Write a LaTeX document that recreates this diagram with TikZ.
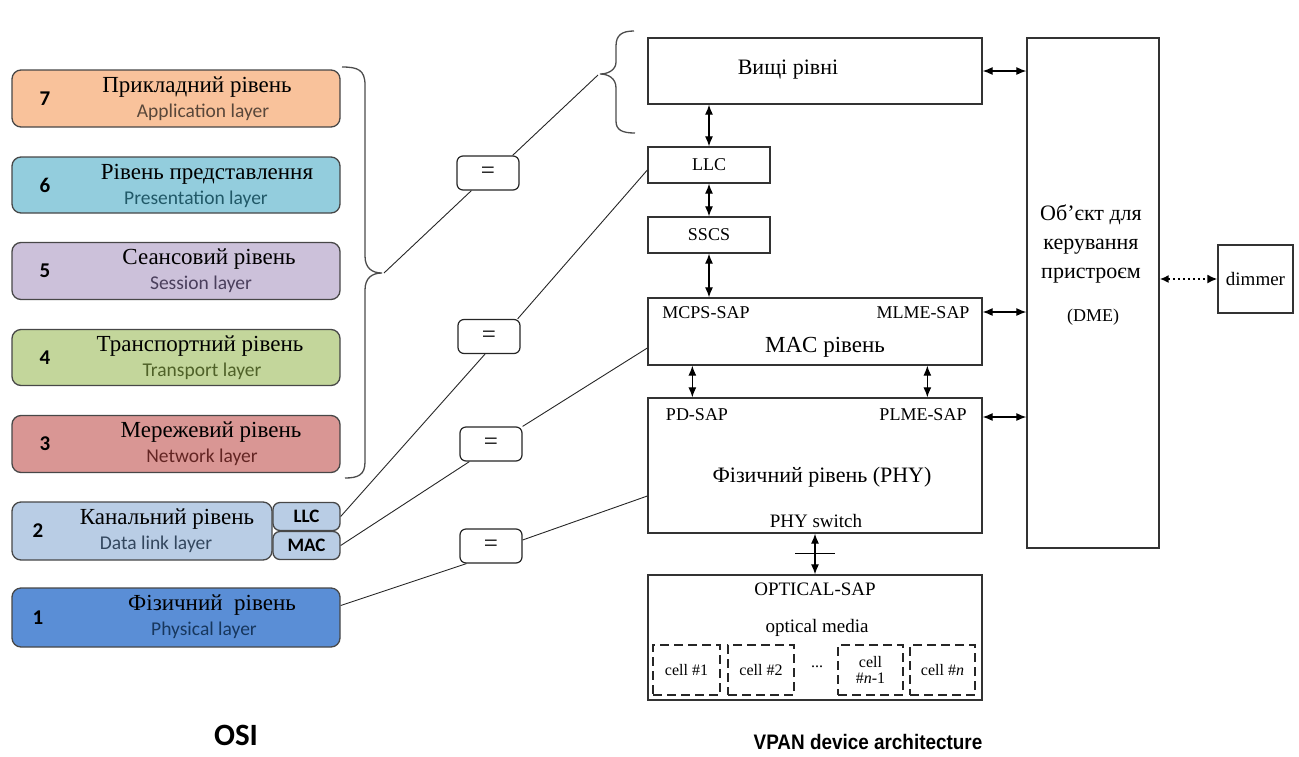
\documentclass[tikz,border=0pt]{standalone}
\usepackage{fontspec}
\setmainfont{Liberation Serif}
\newfontfamily\osifont{Carlito}
\newfontfamily\capfont{Liberation Sans}
\usetikzlibrary{arrows.meta,calc}
\newcommand\setfs[2]{\fontsize{#1}{#2}\selectfont}

% layer fills
\definecolor{fill7}{HTML}{F9C29B}
\definecolor{fill6}{HTML}{93CDDD}
\definecolor{fill5}{HTML}{CCC1DA}
\definecolor{fill4}{HTML}{C3D69B}
\definecolor{fill3}{HTML}{D99694}
\definecolor{fill2}{HTML}{B9CDE5}
\definecolor{fill1}{HTML}{5A8ED6}
% english subtitle colours
\definecolor{sub7}{HTML}{59473A}
\definecolor{sub6}{HTML}{215968}
\definecolor{sub5}{HTML}{4A3F5C}
\definecolor{sub4}{HTML}{4F6128}
\definecolor{sub3}{HTML}{632523}
\definecolor{sub2}{HTML}{33475E}
\definecolor{sub1}{HTML}{17375E}

\begin{document}
\begin{tikzpicture}[x=1pt,y=-1pt,
  osibox/.style={draw=black!72, line width=1.3pt, rounded corners=9pt, inner sep=0pt},
  osinum/.style={font=\osifont\bfseries\setfs{21}{24}},
  ostitle/.style={font=\setfs{23}{27}},
  osub/.style={font=\osifont\setfs{19.5}{23}},
  subbox/.style={draw=black!72, line width=1.3pt, rounded corners=7pt, fill=fill2, inner sep=0pt,
    minimum width=67pt, minimum height=28pt, font=\osifont\bfseries\setfs{19}{22}},
  archbox/.style={draw=black!80, line width=1.3pt, inner sep=0pt},
  sap/.style={font=\setfs{18}{21}},
  mid/.style={font=\setfs{19}{22}},
  big/.style={font=\setfs{22}{26}},
  eqbox/.style={draw=black!85, line width=1.2pt, rounded corners=6pt, fill=white,
    minimum width=62pt, minimum height=34pt, inner sep=0pt, font=\setfs{25}{28}},
  cellbox/.style={draw=black!85, line width=2.8pt, dash pattern=on 9pt off 5pt, inner sep=0pt,
    minimum height=50pt, align=center, font=\setfs{16}{17}},
  link/.style={draw=black!85, line width=0.9pt},
  dual/.style={draw=black, line width=1.2pt, {Latex[length=10pt,width=8pt]}-{Latex[length=10pt,width=8pt]}},
  brace/.style={draw=black!70, line width=1.3pt}
]
\useasboundingbox (0,0) rectangle (1299,756);

% ---------- OSI stack ----------
\node[osibox, fill=fill7, minimum width=328pt, minimum height=57pt] (L7) at (176,98.5) {};
\node[osinum] (n7) at (45,98.5) {7};
\node[ostitle] (t7) at (197,87) {Прикладний рівень};
\node[osub, text=sub7] (e7) at (203,112) {Application layer};

\node[osibox, fill=fill6, minimum width=328pt, minimum height=56pt] (L6) at (176,185) {};
\node[osinum] (n6) at (45,185) {6};
\node[ostitle] (t6) at (207,174) {Рівень представлення};
\node[osub, text=sub6] (e6) at (196,199) {Presentation layer};

\node[osibox, fill=fill5, minimum width=328pt, minimum height=57pt] (L5) at (176,271) {};
\node[osinum] (n5) at (45,271) {5};
\node[ostitle] (t5) at (209,259) {Сеансовий рівень};
\node[osub, text=sub5] (e5) at (201,284) {Session layer};

\node[osibox, fill=fill4, minimum width=328pt, minimum height=56pt] (L4) at (176,357.5) {};
\node[osinum] (n4) at (45,357.5) {4};
\node[ostitle] (t4) at (200,346) {Транспортний рівень};
\node[osub, text=sub4] (e4) at (202,371) {Transport layer};

\node[osibox, fill=fill3, minimum width=328pt, minimum height=57pt] (L3) at (176,444) {};
\node[osinum] (n3) at (45,444) {3};
\node[ostitle] (t3) at (211,432) {Мережевий рівень};
\node[osub, text=sub3] (e3) at (202,457) {Network layer};

\node[osibox, fill=fill2, minimum width=260pt, minimum height=58pt] (L2) at (142,531) {};
\node[osinum] (n2) at (38,531) {2};
\node[ostitle] (t2) at (167,519) {Канальний рівень};
\node[osub, text=sub2] (e2) at (156,544) {Data link layer};
\node[subbox] (LLCs) at (306.5,516.5) {LLC};
\node[subbox] (MACs) at (306.5,545.5) {MAC};

\node[osibox, fill=fill1, minimum width=328pt, minimum height=59pt] (L1) at (176,617.5) {};
\node[osinum] (n1) at (38,617.5) {1};
\node[ostitle] (t1) at (212,605) {Фізичний\ \ рівень};
\node[osub, text=sub1] (e1) at (204,630) {Physical layer};

\node[font=\osifont\bfseries\setfs{31}{36}] (osi) at (236,735) {OSI};

% brace over layers 7..3
\draw[brace] (342,67) .. controls (358,67) and (365,70) .. (365,85) -- (365,256)
  .. controls (365,268) and (372,273) .. (382,273)
  .. controls (372,273) and (365,278) .. (365,290) -- (365,462)
  .. controls (365,475) and (358,478) .. (345,478);
\coordinate (ositip) at (384,273);

% ---------- device architecture ----------
\node[archbox, minimum width=334pt, minimum height=66pt] (UP) at (815,71) {};
\node[big] (upt) at (788,70) {Вищі рівні};

% brace over the upper layers
\draw[brace] (634,31) .. controls (622,31) and (616,35) .. (616,46) -- (616,62)
  .. controls (616,70) and (608,74) .. (600,74)
  .. controls (608,74) and (616,78) .. (616,88) -- (616,121)
  .. controls (616,130) and (622,133) .. (635,133);
\coordinate (uptip) at (598,75);

\node[archbox, minimum width=122pt, minimum height=36pt, sap] (LLC) at (709,165) {LLC};
\node[archbox, minimum width=122pt, minimum height=36pt, sap] (SSCS) at (709,235) {SSCS};

\node[archbox, minimum width=334pt, minimum height=67pt] (MAC) at (815,331.5) {};
\node[sap] (mcps) at (706,313) {MCPS-SAP};
\node[sap] (mlme) at (923,313) {MLME-SAP};
\node[font=\setfs{23}{26}] (mact) at (825,347) {MAC рівень};

\node[archbox, minimum width=334pt, minimum height=135pt] (PHY) at (815,465.5) {};
\node[sap] (pdsap) at (697,415) {PD-SAP};
\node[sap] (plme) at (923,415) {PLME-SAP};
\node[big] (phyt) at (822,477) {Фізичний рівень (PHY)};
\node[mid] (physw) at (816,521) {PHY switch};

\node[archbox, minimum width=334pt, minimum height=125pt] (OPT) at (815,637.5) {};
\node[mid] (optsap) at (815,589) {OPTICAL-SAP};
\node[mid] (optmed) at (817,628) {optical media};
\node[cellbox, minimum width=67pt] (c1) at (686.5,670) {cell \#1};
\node[cellbox, minimum width=66pt] (c2) at (761,670) {cell \#2};
\node[font=\setfs{16}{17}] (cdots) at (817,667) {...};
\node[cellbox, minimum width=65pt] (c3) at (870.5,670) {cell\\[-1pt]\#\textit{n}-1};
\node[cellbox, minimum width=65pt] (c4) at (942.5,670) {cell \#\textit{n}};

\node[archbox, minimum width=132pt, minimum height=510pt] (DME) at (1093,293) {};
\node[align=center, font=\setfs{22}{29}] (dmet) at (1091,244) {Об'єкт для\\керування\\пристроєм};
\node[font=\setfs{18}{21}] (dmeab) at (1093,317) {(DME)};

\node[archbox, minimum width=75pt, minimum height=68pt, mid] (DIM) at (1255.5,279) {dimmer};

\node[font=\capfont\bfseries\setfs{21}{25}, xscale=0.9] (vpan) at (868,742) {VPAN device architecture};

% vertical service links
\draw[dual] (LLC.north |- UP.south) -- (LLC.north);
\draw[dual] (LLC.south) -- (SSCS.north);
\draw[dual] (SSCS.south) -- (SSCS.south |- MAC.north);
\draw[dual] ([xshift=45pt]MAC.south west) -- ([xshift=45pt]PHY.north west);
\draw[dual] ([xshift=280pt]MAC.south west) -- ([xshift=280pt]PHY.north west);
\draw[dual] (PHY.south) -- (OPT.north);
\coordinate (tick) at ($(PHY.south)!0.48!(OPT.north)$);
\draw[line width=1.2pt] ([xshift=-20pt]tick) -- ([xshift=20pt]tick);

% management links to the DME
\draw[dual] (UP.east) -- (UP.east -| DME.west);
\draw[dual] ([yshift=19.5pt]MAC.east) -- ([yshift=19.5pt]MAC.east -| DME.west);
\draw[dual] ([yshift=48.5pt]PHY.east) -- ([yshift=48.5pt]PHY.east -| DME.west);
\draw[draw=black, line width=1.8pt, dash pattern=on 1.8pt off 3.2pt,
  {Latex[length=9pt,width=8pt]}-{Latex[length=10pt,width=9pt]}] (DIM.west -| DME.east) -- (DIM.west);

% ---------- equivalence links ----------
\node[eqbox] (eq1) at (488,173) {=};
\node[eqbox] (eq2) at (489,336.5) {=};
\node[eqbox] (eq3) at (491,444) {=};
\node[eqbox] (eq4) at (491,546) {=};

\draw[link] (ositip) -- ([xshift=15pt]eq1.south west);
\draw[link] ([xshift=-7pt]eq1.north east) -- (uptip);
\draw[link] (LLCs.east) -- ([xshift=-4pt]eq2.south);
\draw[link] ([xshift=-3pt]eq2.north east) -- ([yshift=-5pt]LLC.west);
\draw[link] (MACs.east) -- ([xshift=10pt]eq3.south west);
\draw[link] (eq3.north east) -- ([yshift=-16.5pt]MAC.west);
\draw[link] ([yshift=12pt]L1.east) -- ([xshift=7pt]eq4.south west);
\draw[link] ([yshift=6pt]eq4.east) -- ([yshift=-30.5pt]PHY.west);
\end{tikzpicture}
\end{document}
